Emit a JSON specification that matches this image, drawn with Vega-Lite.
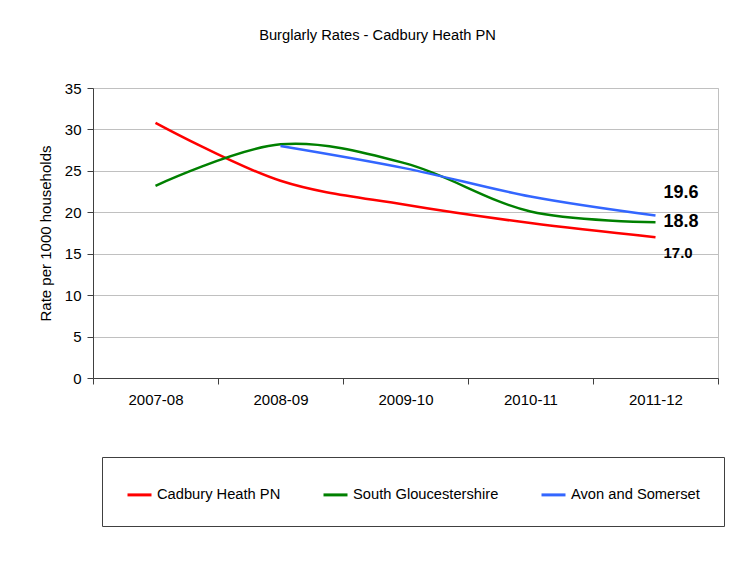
{
  "$schema": "https://vega.github.io/schema/vega-lite/v6.json",
  "width": 625,
  "height": 290,
  "autosize": {"type": "none"},
  "padding": {"left": 93, "top": 88, "right": 19, "bottom": 194},
  "background": "white",
  "title": {
    "text": "Burglarly Rates - Cadbury Heath PN",
    "font": "Liberation Sans",
    "fontSize": 14.7,
    "fontWeight": "normal",
    "color": "black",
    "offset": 38,
    "dx": -28
  },
  "config": {
    "view": {"stroke": "#c0c0c0", "strokeWidth": 1},
    "font": "Liberation Sans"
  },
  "data": {
    "values": [
      {"year": "2007-08", "series": "Cadbury Heath PN", "rate": 30.8},
      {"year": "2008-09", "series": "Cadbury Heath PN", "rate": 23.8},
      {"year": "2009-10", "series": "Cadbury Heath PN", "rate": 20.9},
      {"year": "2010-11", "series": "Cadbury Heath PN", "rate": 18.7},
      {"year": "2011-12", "series": "Cadbury Heath PN", "rate": 17.0},
      {"year": "2007-08", "series": "South Gloucestershire", "rate": 23.2},
      {"year": "2008-09", "series": "South Gloucestershire", "rate": 28.2},
      {"year": "2009-10", "series": "South Gloucestershire", "rate": 25.9},
      {"year": "2010-11", "series": "South Gloucestershire", "rate": 20.1},
      {"year": "2011-12", "series": "South Gloucestershire", "rate": 18.8},
      {"year": "2008-09", "series": "Avon and Somerset", "rate": 28.0},
      {"year": "2009-10", "series": "Avon and Somerset", "rate": 25.3},
      {"year": "2010-11", "series": "Avon and Somerset", "rate": 21.9},
      {"year": "2011-12", "series": "Avon and Somerset", "rate": 19.6}
    ]
  },
  "encoding": {
    "x": {
      "field": "year",
      "type": "nominal",
      "scale": {"type": "band", "paddingInner": 0, "paddingOuter": 0},
      "axis": {
        "title": null,
        "labelAngle": 0,
        "tickBand": "extent",
        "labelFont": "Liberation Sans",
        "labelFontSize": 15,
        "labelColor": "black",
        "labelPadding": 8,
        "domainColor": "#404040",
        "tickColor": "#404040",
        "tickSize": 6,
        "grid": false
      }
    },
    "y": {
      "field": "rate",
      "type": "quantitative",
      "scale": {"domain": [0, 35], "nice": false},
      "axis": {
        "title": "Rate per 1000 households",
        "titleFont": "Liberation Sans",
        "titleFontSize": 15,
        "titleFontWeight": "normal",
        "titleColor": "black",
        "titlePadding": 11,
        "values": [0, 5, 10, 15, 20, 25, 30, 35],
        "labelFont": "Liberation Sans",
        "labelFontSize": 15,
        "labelColor": "black",
        "labelPadding": 6,
        "domainColor": "#404040",
        "tickColor": "#404040",
        "tickSize": 6,
        "gridColor": "#c0c0c0",
        "gridWidth": 1
      }
    }
  },
  "layer": [
    {
      "mark": {"type": "line", "interpolate": "catmull-rom", "strokeWidth": 2.5},
      "encoding": {
        "color": {
          "field": "series",
          "type": "nominal",
          "scale": {
            "domain": ["Cadbury Heath PN", "South Gloucestershire", "Avon and Somerset"],
            "range": ["#ff0000", "#008000", "#3366ff"]
          },
          "legend": {
            "title": null,
            "orient": "none",
            "legendX": 9,
            "legendY": 369,
            "direction": "horizontal",
            "columns": 3,
            "gridAlign": "each",
            "columnPadding": 36,
            "symbolType": "stroke",
            "symbolStrokeWidth": 3,
            "symbolSize": 576,
            "labelFont": "Liberation Sans",
            "labelFontSize": 14.7,
            "labelColor": "black",
            "labelOffset": 4,
            "strokeColor": "#404040",
            "padding": 24,
            "fillColor": "white"
          }
        },
        "order": {"field": "year"}
      }
    },
    {
      "transform": [{"filter": "datum.year == '2011-12' && datum.series == 'Avon and Somerset'"}],
      "mark": {"type": "text", "align": "left", "baseline": "middle", "dx": 8, "dy": -23, "fontSize": 18, "fontWeight": "bold", "font": "Liberation Sans", "color": "black"},
      "encoding": {"text": {"field": "rate", "type": "quantitative", "format": ".1f"}}
    },
    {
      "transform": [{"filter": "datum.year == '2011-12' && datum.series == 'South Gloucestershire'"}],
      "mark": {"type": "text", "align": "left", "baseline": "middle", "dx": 8, "dy": 0, "fontSize": 18, "fontWeight": "bold", "font": "Liberation Sans", "color": "black"},
      "encoding": {"text": {"field": "rate", "type": "quantitative", "format": ".1f"}}
    },
    {
      "transform": [{"filter": "datum.year == '2011-12' && datum.series == 'Cadbury Heath PN'"}],
      "mark": {"type": "text", "align": "left", "baseline": "middle", "dx": 8, "dy": 16, "fontSize": 15, "fontWeight": "bold", "font": "Liberation Sans", "color": "black"},
      "encoding": {"text": {"field": "rate", "type": "quantitative", "format": ".1f"}}
    }
  ]
}
